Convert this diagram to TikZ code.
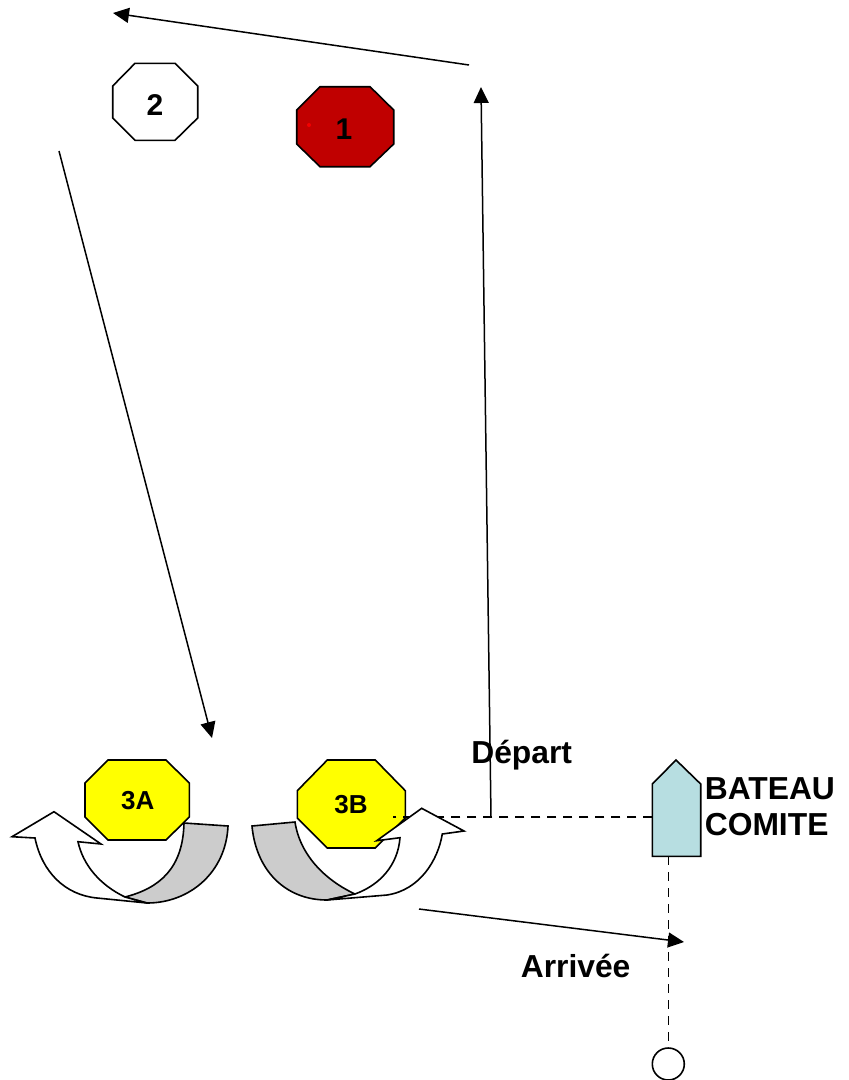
\documentclass[tikz,border=0pt]{standalone}
\usepackage{fontspec}
\setmainfont{Liberation Sans}
\usetikzlibrary{arrows.meta}
\definecolor{markred}{RGB}{192,0,0}
\definecolor{markyellow}{RGB}{255,255,0}
\definecolor{boatblue}{RGB}{183,222,225}
\definecolor{turngray}{RGB}{204,204,204}

\begin{document}
\begin{tikzpicture}[x=1pt,y=-1pt,line width=1.6pt,>={Triangle[length=16pt,width=15pt]},
bignum/.style={inner sep=0pt,font=\bfseries\fontsize{30}{34}\selectfont},
smallnum/.style={inner sep=0pt,font=\bfseries\fontsize{26}{30}\selectfont},
legend/.style={inner sep=0pt,font=\bfseries\fontsize{31.8}{36}\selectfont},
course/.style={->,line width=1.5pt},
lay/.style={dash pattern=on 9pt off 7pt,line width=1.5pt}
]
\useasboundingbox (0,0) rectangle (849,1080);

% marks
\draw (135,63.3)--(175,63.3)--(197.7,86)--(197.7,118)--(175,140.3)--(135,140.3)--(112.7,118)--(112.7,86)--cycle;
\draw[fill=markred] (320,86.7)--(370,86.7)--(393.7,110)--(393.7,144)--(370,166.7)--(320,166.7)--(296.7,144)--(296.7,110)--cycle;
\draw[fill=markyellow] (108,760)--(166,760)--(189.3,783)--(189.3,817)--(166,840)--(108,840)--(85,817)--(85,783)--cycle;
\draw[fill=markyellow] (327.3,760)--(375.3,760)--(405.3,790.7)--(405.3,818)--(375.3,848)--(327.3,848)--(297.3,818)--(297.3,790.7)--cycle;
\fill[red!80!markred] (309,125) circle (2pt);
\node[bignum] (mark2) at (155,104.7) {2};
\node[bignum] (mark1) at (344,129) {1};
\node[smallnum] (mark3A) at (137.7,801) {3A};
\node[smallnum] (mark3B) at (351,804.5) {3B};

% boat and the lines from it
\coordinate (boatW) at (652.3,817);
\coordinate (boatS) at (668.3,856.3);
\coordinate (lineEnd) at (393,817);
\draw[fill=boatblue] (676,760) -- (700.7,784) -- (700.7,856.3) -- (652.3,856.3) -- (652.3,784) -- cycle;
\node[draw,circle,minimum size=32pt,inner sep=0pt] (buoy) at (668.3,1064) {};
\draw[lay] (boatW) -- (lineEnd);
\draw[lay] (boatS) -- (buoy);

% turns around 3A
\draw[fill=turngray] (184,823) -- (228,826) .. controls (226,872) and (190,903) .. (147,903) -- (125,897) .. controls (160,888) and (183,868) .. (184,823) -- cycle;
\draw[fill=white] (12,836.7) -- (54,811.7) -- (101,844) -- (78,841.7) .. controls (83,865) and (100,885) .. (125,897) -- (147,903) -- (97,898) .. controls (65,895) and (42,872) .. (35,838) -- cycle;

% turns around 3B
\draw[fill=turngray] (252,826) -- (295,822) .. controls (300,855) and (325,880) .. (355,894) -- (327,900) .. controls (285,900) and (256,870) .. (252,826) -- cycle;
\draw[fill=white] (464,831) -- (421.7,808.3) -- (376.7,840.7) -- (400,837.7) .. controls (398,865) and (380,885) .. (355,894) -- (327,900) -- (387,895) .. controls (420,890) and (438,860) .. (442.3,834) -- cycle;

% course
\coordinate (startLeg1) at (491,817);
\coordinate (endLeg1) at (481,87);
\coordinate (startLeg2) at (469,65);
\coordinate (endLeg2) at (113,13);
\coordinate (startLeg3) at (59,151);
\coordinate (endLeg3) at (212,738);
\coordinate (startLeg4) at (419,909);
\coordinate (endLeg4) at (684,942);
\draw[course] (startLeg1) -- (endLeg1);
\draw[course] (startLeg2) -- (endLeg2);
\draw[course] (startLeg3) -- (endLeg3);
\draw[course] (startLeg4) -- (endLeg4);

\node[legend,anchor=base west] (depart) at (470.5,763) {Départ};
\node[legend,anchor=base west] (arrivee) at (520,977) {Arrivée};
\node[legend,anchor=base west] (bateau) at (704,799) {BATEAU};
\node[legend,anchor=base west] (comite) at (704,835) {COMITE};
\end{tikzpicture}
\end{document}
